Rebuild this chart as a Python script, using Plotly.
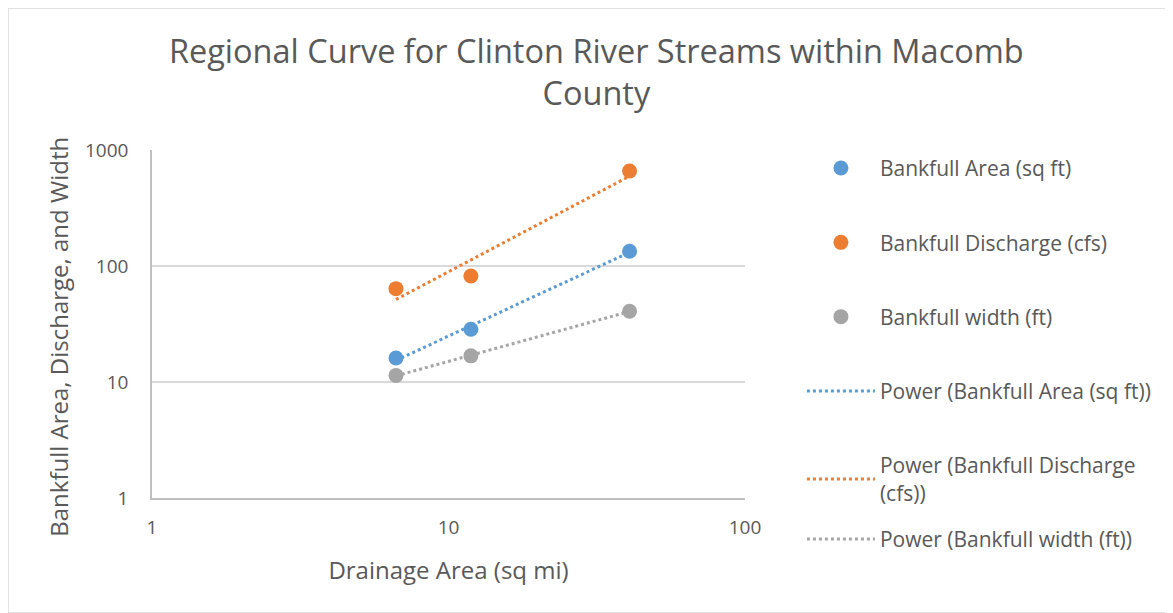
import numpy as np
import plotly.graph_objects as go

# drainage area (sq mi) for the three stream sites
drainage_area = [6.65, 11.9, 40.8]
bankfull_area = [16.1, 28.5, 134]
bankfull_discharge = [63.8, 82, 659]
bankfull_width = [11.4, 16.8, 40.7]

series_names = ["Bankfull Area (sq ft)", "Bankfull Discharge (cfs)", "Bankfull width (ft)"]
trend_names = ["Power (Bankfull Area (sq ft))", "Power (Bankfull Discharge<br>(cfs))",
               "Power (Bankfull width (ft))"]
trend_legends = ["legend", "legend", "legend2"]
colors = ["#5B9BD5", "#ED7D31", "#A5A5A5"]

FONT = "Open Sans"
GREY = "#595959"

fig = go.Figure()

all_series = [bankfull_area, bankfull_discharge, bankfull_width]
for i, (name, vals) in enumerate(zip(series_names, all_series)):
    fig.add_trace(go.Scatter(
        x=drainage_area, y=vals, mode="markers", name=name,
        marker=dict(color=colors[i], size=15),
        legendgroup=f"g{i}", legendrank=i,
    ))

# power trendlines (least squares in log-log space, like Excel)
lx = np.log10(drainage_area)
xs = [min(drainage_area), max(drainage_area)]
for i, (name, vals) in enumerate(zip(trend_names, all_series)):
    b, a = np.polyfit(lx, np.log10(vals), 1)
    ys = [10 ** (a + b * np.log10(v)) for v in xs]
    fig.add_trace(go.Scatter(
        x=xs, y=ys, mode="lines", name=name,
        line=dict(color=colors[i], width=3, dash="dot"),
        legendgroup=f"t{i}", legendrank=3 + i, legend=trend_legends[i],
    ))

legend_style = dict(
    xanchor="left", yanchor="top", font=dict(size=21, color=GREY),
    itemwidth=68, bgcolor="rgba(0,0,0,0)",
)

fig.update_layout(
    width=1165, height=605,
    margin=dict(l=144, r=428, t=142, b=115, autoexpand=False),
    paper_bgcolor="white", plot_bgcolor="white",
    font=dict(family=FONT, color=GREY, size=19),
    title=dict(
        text="Regional Curve for Clinton River Streams within Macomb<br>County",
        x=0.505, xanchor="center", y=0.909, yanchor="top",
        font=dict(size=32.5, color=GREY, family=FONT),
    ),
    legend=dict(x=1.096, y=1.006, tracegroupgap=44, maxheight=600, **legend_style),
    legend2=dict(x=1.096, y=-0.06, **legend_style),
    showlegend=True,
)

fig.update_xaxes(
    type="log", range=[0, 2], tickvals=[1, 10, 100], ticktext=["1", "10", "100"],
    showgrid=False, showline=True, linecolor="#BFBFBF", linewidth=1.5,
    zeroline=False, ticks="", ticklabelstandoff=11,
    title=dict(text="Drainage Area (sq mi)", font=dict(size=24, color=GREY), standoff=24),
)
fig.update_yaxes(
    type="log", range=[0, 3], tickvals=[1, 10, 100, 1000],
    ticktext=["1", "10", "100", "1000"],
    showgrid=True, gridcolor="#D9D9D9", gridwidth=1.5,
    showline=True, linecolor="#BFBFBF", linewidth=1.5,
    zeroline=False, ticks="", ticklabelstandoff=18,
)

# y-axis title sits a little below the plot centre, as in the original
fig.add_annotation(
    text="Bankfull Area, Discharge, and Width", textangle=-90,
    xref="paper", yref="paper", x=-0.157, y=0.463,
    xanchor="center", yanchor="middle", showarrow=False,
    font=dict(size=24, color=GREY, family=FONT),
)

# chart area border
fig.add_shape(type="rect", xref="paper", yref="paper",
              x0=-144 / 593, x1=(1165 - 144) / 593, y0=-115 / 348, y1=(348 + 142) / 348,
              line=dict(color="#D9D9D9", width=1.5), layer="below")

fig.write_html("out.html")
